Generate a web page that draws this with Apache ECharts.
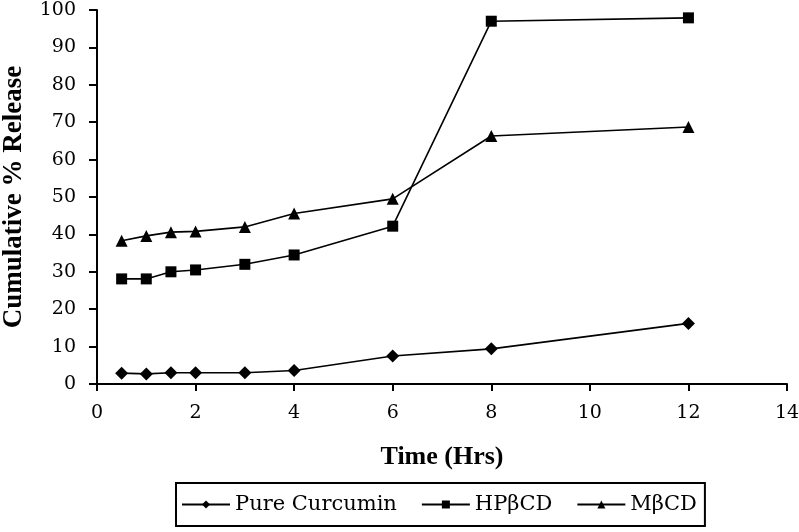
<!DOCTYPE html>
<html><head><meta charset="utf-8">
<script src="https://cdn.jsdelivr.net/npm/echarts@6/dist/echarts.min.js"></script>
<style>html,body{margin:0;padding:0;background:#fff}#c{width:799px;height:532px}</style>
</head><body><div id="c"></div>
<script>
var times = [0.5, 1, 1.5, 2, 3, 4, 6, 8, 12];
var pureCurcumin = [2.9, 2.7, 3.0, 3.0, 3.0, 3.6, 7.5, 9.4, 16.2];
var hpbcd = [28.1, 28.1, 30.0, 30.5, 32.0, 34.5, 42.2, 97.0, 97.9];
var mbcd = [38.3, 39.6, 40.6, 40.8, 42.0, 45.6, 49.5, 66.3, 68.7];
var seriesNames = ['Pure Curcumin', 'HP\u03b2CD', 'M\u03b2CD'];
var font = '"DejaVu Serif", serif';
var boldFont = '"Liberation Serif", "Times New Roman", serif';
function pairs(v){ return times.map(function(t,i){ return [t, v[i]]; }); }
var chart = echarts.init(document.getElementById('c'));
var mk = function(name, data, sym, size){
  return {name: name, type: 'line', data: pairs(data), symbol: sym, symbolSize: size,
    lineStyle: {color: '#000', width: 1.6}, itemStyle: {color: '#000'}, animation: false};
};
chart.setOption({
  animation: false,
  grid: {left: 97, right: 12, top: 10, bottom: 148, containLabel: false, outerBoundsMode: 'none'},
  xAxis: {type: 'value', min: 0, max: 14, interval: 2,
    name: 'Time (Hrs)', nameLocation: 'middle', nameGap: 60,
    nameTextStyle: {fontFamily: boldFont, fontSize: 26, fontWeight: 'bold', color: '#000'},
    axisLine: {lineStyle: {color: '#000', width: 2}},
    axisTick: {show: true, length: 7, lineStyle: {color: '#000', width: 2}},
    axisLabel: {fontFamily: font, fontSize: 19, color: '#000', margin: 20},
    splitLine: {show: false}},
  yAxis: {type: 'value', min: 0, max: 100, interval: 10,
    name: 'Cumulative % Release', nameLocation: 'middle', nameGap: 69,
    nameTextStyle: {fontFamily: boldFont, fontSize: 27, fontWeight: 'bold', color: '#000'},
    axisLine: {show: true, lineStyle: {color: '#000', width: 2}},
    axisTick: {show: true, length: 8, lineStyle: {color: '#000', width: 2}},
    axisLabel: {fontFamily: font, fontSize: 19, color: '#000', margin: 21},
    splitLine: {show: false}},
  legend: {left: 176, top: 483, orient: 'horizontal', padding: [11, 8, 11, 5],
    borderColor: '#000', borderWidth: 2, itemWidth: 48, itemHeight: 10, itemGap: 24,
    textStyle: {fontFamily: font, fontSize: 21, color: '#000'},
    data: seriesNames},
  series: [
    mk(seriesNames[0], pureCurcumin, 'diamond', 13),
    mk(seriesNames[1], hpbcd, 'rect', 11),
    mk(seriesNames[2], mbcd, 'triangle', 12)
  ]
});
</script></body></html>
